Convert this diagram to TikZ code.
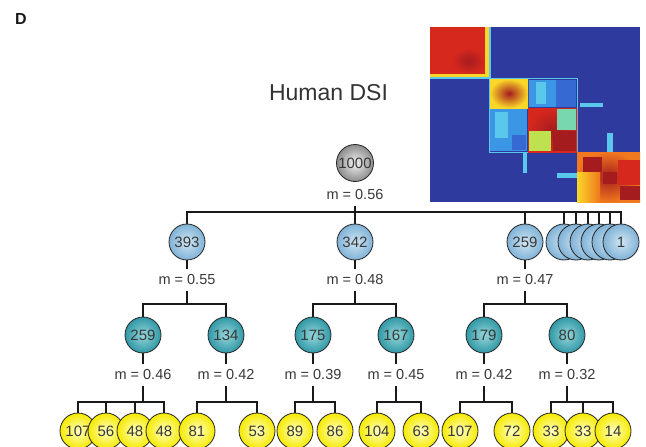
\documentclass[tikz,border=0pt]{standalone}
\usepackage{fontspec}
\setmainfont{Liberation Sans}
\definecolor{jblue}{RGB}{46,58,158}
\definecolor{jmblue}{RGB}{55,105,210}
\definecolor{jlblue}{RGB}{60,150,230}
\definecolor{jcyan}{RGB}{90,200,235}
\definecolor{jgreen}{RGB}{120,215,175}
\definecolor{jyg}{RGB}{190,225,80}
\definecolor{jyel}{RGB}{250,215,40}
\definecolor{jorange}{RGB}{240,120,30}
\definecolor{jred}{RGB}{215,40,30}
\definecolor{jdred}{RGB}{165,28,30}
\definecolor{gin}{RGB}{242,242,242}
\definecolor{gout}{RGB}{140,140,140}
\definecolor{bin}{RGB}{208,230,244}
\definecolor{bout}{RGB}{128,178,214}
\definecolor{tin}{RGB}{150,214,218}
\definecolor{tout}{RGB}{48,152,166}
\definecolor{yin}{RGB}{255,255,195}
\definecolor{yout}{RGB}{246,234,0}
\begin{document}
\begin{tikzpicture}[x=1pt,y=-1pt,
  numtxt/.style={font=\fontsize{15}{17}\selectfont, text=black!78},
  nd/.style={circle, draw=black!85, line width=0.8pt, minimum size=36pt, inner sep=0pt, numtxt, shading=radial},
  grayn/.style={nd, minimum size=37pt, inner color=gin, outer color=gout},
  bluen/.style={nd, inner color=bin, outer color=bout},
  tealn/.style={nd, inner color=tin, outer color=tout},
  yeln/.style={nd, inner color=yin, outer color=yout},
  lbl/.style={font=\fontsize{14.5}{16}\selectfont, text=black!78, inner xsep=1pt, inner ysep=6pt},
  con/.style={line width=1.1pt, black!90}]
\useasboundingbox (0,0) rectangle (646,447);

% title texts
\node[font=\bfseries\fontsize{16}{16}\selectfont, text=black!90] (D) at (21,19) {D};
\node[font=\fontsize{23}{25}\selectfont, text=black!80] (title) at (328.5,93) {Human DSI};

% matrix
\fill[jblue] (430,27) rectangle (640,202);
\fill[jred] (430,27) rectangle (486,75);
\shade[inner color=jdred, outer color=jred] (452,48) rectangle (485,74);
\fill[jyel] (485,27) rectangle (489,77);
\fill[jyel] (430,74) rectangle (489,77);
\fill[jcyan] (489,27) rectangle (491,79);
\fill[jcyan] (430,77) rectangle (491,79);
\draw[jcyan, line width=1pt] (489,78) rectangle (577,152);
\shade[inner color=jdred, outer color=jyel] (490,79) rectangle (528,108);
\fill[jlblue] (529,80) rectangle (556,107);
\fill[jcyan] (536,82) rectangle (546,104);
\fill[jmblue] (556,80) rectangle (576,107);
\fill[jlblue] (490,109) rectangle (527,151);
\fill[jcyan] (495,112) rectangle (508,138);
\fill[jmblue] (512,135) rectangle (526,150);
\shade[inner color=jdred, outer color=jred] (528,108) rectangle (577,152);
\fill[jgreen] (557,109) rectangle (576,130);
\fill[jyg] (529,131) rectangle (551,151);
\fill[jdred] (553,131) rectangle (576,151);
\shade[inner color=jdred, outer color=jorange] (577,152) rectangle (640,202);
\fill[jdred] (583,157) rectangle (602,172);
\shade[left color=jyel, right color=jorange] (577,172) rectangle (600,202);
\fill[jdred] (603,172) rectangle (617,184);
\fill[jred] (618,160) rectangle (640,185);
\fill[jdred] (620,186) rectangle (640,200);
\fill[jcyan] (523,152) rectangle (527,173);
\fill[jcyan] (557,173) rectangle (577,178);
\fill[jcyan] (607,133) rectangle (613,152);
\fill[jcyan] (580,103) rectangle (603,107);

% level 0
\node[grayn] (r) at (355,163) {1000};
\node[lbl] (m0) at (355,195) {m = 0.56};
\coordinate (b0) at (355,212);

% level 1
\node[bluen] (a) at (187,242) {393};
\node[bluen] (b) at (355,242) {342};
\node[bluen] (c) at (525,242) {259};
\node[bluen] (s1) at (564,242) {};
\node[bluen] (s2) at (576,242) {};
\node[bluen] (s3) at (588,242) {};
\node[bluen] (s4) at (599,242) {};
\node[bluen] (s5) at (610,242) {};
\node[bluen] (s6) at (621,242) {1};
\node[lbl] (ma) at (187,280) {m = 0.55};
\node[lbl] (mb) at (355,280) {m = 0.48};
\node[lbl] (mc) at (525,280) {m = 0.47};
\coordinate (ba) at (187,304);
\coordinate (bb) at (355,304);
\coordinate (bc) at (525,304);

% level 2
\node[tealn] (aa) at (143,335) {259};
\node[tealn] (ab) at (226,335) {134};
\node[tealn] (ba2) at (313,335) {175};
\node[tealn] (bb2) at (396,335) {167};
\node[tealn] (ca) at (484,335) {179};
\node[tealn] (cb) at (567,335) {80};
\node[lbl] (maa) at (143,375) {m = 0.46};
\node[lbl] (mab) at (226,375) {m = 0.42};
\node[lbl] (mba) at (313,375) {m = 0.39};
\node[lbl] (mbb) at (396,375) {m = 0.45};
\node[lbl] (mca) at (484,375) {m = 0.42};
\node[lbl] (mcb) at (567,375) {m = 0.32};
\coordinate (baa) at (143,402);
\coordinate (bab) at (226,402);
\coordinate (bba) at (313,402);
\coordinate (bbb) at (396,402);
\coordinate (bca) at (484,402);
\coordinate (bcb) at (567,402);

% level 3
\node[yeln] (y1) at (78,431) {107};
\node[yeln] (y2) at (106,431) {56};
\node[yeln] (y3) at (135,431) {48};
\node[yeln] (y4) at (164,431) {48};
\node[yeln] (y5) at (197,431) {81};
\node[yeln] (y6) at (257,431) {53};
\node[yeln] (y7) at (295,431) {89};
\node[yeln] (y8) at (335,431) {86};
\node[yeln] (y9) at (377,431) {104};
\node[yeln] (y10) at (421,431) {63};
\node[yeln] (y11) at (460,431) {107};
\node[yeln] (y12) at (512,431) {72};
\node[yeln] (y13) at (551,431) {33};
\node[yeln] (y14) at (583,431) {33};
\node[yeln] (y15) at (613,431) {14};

% connectors level 0
\draw[con] (m0.south) -- (b0);
\foreach \n in {a,b,c,s1,s2,s3,s4,s5,s6} \draw[con] (\n.north) |- (b0);
% connectors level 1
\foreach \p/\q in {a/ma,b/mb,c/mc} \draw[con] (\p.south) -- (\q.north);
\foreach \q/\r in {ma/ba,mb/bb,mc/bc} \draw[con] (\q.south) -- (\r);
\foreach \n/\r in {aa/ba,ab/ba,ba2/bb,bb2/bb,ca/bc,cb/bc} \draw[con] (\n.north) |- (\r);
% connectors level 2
\foreach \p/\q in {aa/maa,ab/mab,ba2/mba,bb2/mbb,ca/mca,cb/mcb} \draw[con] (\p.south) -- (\q.north);
\foreach \q/\r in {maa/baa,mab/bab,mba/bba,mbb/bbb,mca/bca,mcb/bcb} \draw[con] (\q.south) -- (\r);
\foreach \n/\r in {y1/baa,y2/baa,y3/baa,y4/baa,y5/bab,y6/bab,y7/bba,y8/bba,y9/bbb,y10/bbb,y11/bca,y12/bca,y13/bcb,y14/bcb,y15/bcb} \draw[con] (\n.north) |- (\r);
\end{tikzpicture}
\end{document}
